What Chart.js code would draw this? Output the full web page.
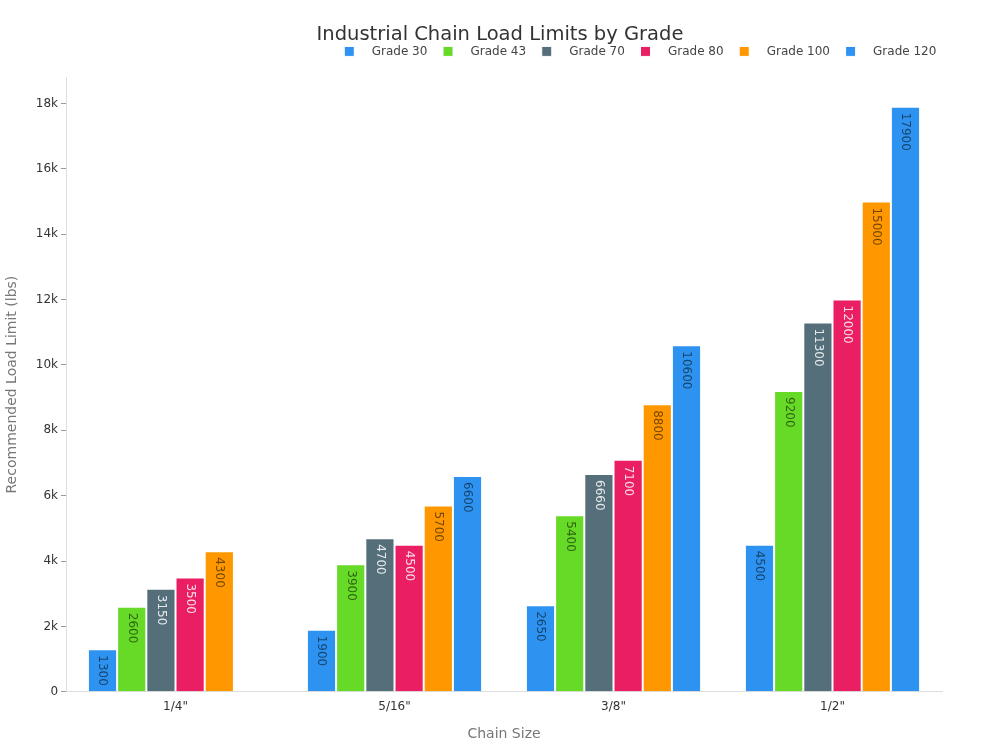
<!DOCTYPE html>
<html>
<head>
<meta charset="utf-8">
<title>Industrial Chain Load Limits by Grade</title>
<script src="https://cdn.jsdelivr.net/npm/chart.js@4.4.1/dist/chart.umd.min.js"></script>
<style>
  html, body { margin: 0; padding: 0; background: #fff; }
  #wrap { width: 1000px; height: 750px; }
</style>
</head>
<body>
<div id="wrap"><canvas id="chart"></canvas></div>
<script>
const sizes = ['1/4"', '5/16"', '3/8"', '1/2"'];
const grades = ['Grade 30', 'Grade 43', 'Grade 70', 'Grade 80', 'Grade 100', 'Grade 120'];
const grade30 = [1300, 1900, 2650, 4500];
const grade43 = [2600, 3900, 5400, 9200];
const grade70 = [3150, 4700, 6660, 11300];
const grade80 = [3500, 4500, 7100, 12000];
const grade100 = [4300, 5700, 8800, 15000];
const grade120 = [null, 6600, 10600, 17900];
const yTicks = [0, 2000, 4000, 6000, 8000, 10000, 12000, 14000, 16000, 18000];

const colors = ['#2E93F0', '#66DA26', '#546E7A', '#E91E63', '#FF9800', '#2E93F0'];
const dark = 'rgba(0,0,0,0.55)';
const light = 'rgba(255,255,255,0.85)';
const labelColors = [dark, dark, light, light, dark, dark];

const series = [grade30, grade43, grade70, grade80, grade100, grade120];

const datasets = series.map((vals, i) => ({
  label: grades[i],
  data: vals,
  backgroundColor: colors[i],
  borderColor: '#fff',
  borderWidth: 1,
  labelColor: labelColors[i],
}));

// rotated value labels inside the top of each bar
const barLabels = {
  id: 'barLabels',
  afterDatasetsDraw(chart) {
    const ctx = chart.ctx;
    chart.data.datasets.forEach((ds, i) => {
      const meta = chart.getDatasetMeta(i);
      meta.data.forEach((bar, j) => {
        const v = ds.data[j];
        if (v === null || v === undefined) return;
        ctx.save();
        ctx.translate(bar.x, bar.y + 6);
        ctx.rotate(Math.PI / 2);
        ctx.font = '12px "DejaVu Sans"';
        ctx.fillStyle = ds.labelColor;
        ctx.textAlign = 'left';
        ctx.textBaseline = 'middle';
        ctx.fillText(String(v), 0, 0);
        ctx.restore();
      });
    });
  }
};

// a bit more room under the legend, and title/legend shifted to page centre
const headerTweak = {
  id: 'headerTweak',
  beforeLayout(chart) {
    const lg = chart.legend;
    if (lg && !lg._patched) {
      const fit = lg.fit.bind(lg);
      lg.fit = function () { fit(); this.height += 10; };
      lg._patched = true;
    }
  },
  afterLayout(chart) {
    const lg = chart.legend;
    const tb = chart.titleBlock;
    if (lg) { lg.left += 10; lg.right += 10; }
    if (tb) { tb.left += 28; tb.right += 28; }
  }
};

new Chart(document.getElementById('chart'), {
  type: 'bar',
  data: { labels: sizes, datasets: datasets },
  plugins: [barLabels, headerTweak],
  options: {
    responsive: true,
    maintainAspectRatio: false,
    animation: false,
    layout: { padding: { left: 2, right: 58, top: 8, bottom: 3 } },
    datasets: { bar: { categoryPercentage: 0.8, barPercentage: 1.0 } },
    plugins: {
      title: {
        display: true,
        text: 'Industrial Chain Load Limits by Grade',
        color: '#333',
        font: { family: 'DejaVu Sans', size: 19.5, weight: 'normal' },
        padding: { top: 15, bottom: -9 },
      },
      legend: {
        align: 'end',
        labels: {
          boxWidth: 10,
          boxHeight: 10,
          padding: 8,
          color: '#444',
          font: { family: 'DejaVu Sans', size: 12 },
          generateLabels(chart) {
            // extra spaces widen the gap around each entry
            return Chart.defaults.plugins.legend.labels.generateLabels(chart).map(l => {
              l.text = '   ' + l.text + '  ';
              return l;
            });
          },
        },
      },
      tooltip: { enabled: false },
    },
    scales: {
      x: {
        grid: { display: false, tickLength: 5 },
        border: { color: '#ddd' },
        ticks: { color: '#333', font: { family: 'DejaVu Sans', size: 12 } },
        title: {
          display: true,
          text: 'Chain Size',
          color: '#777',
          font: { family: 'DejaVu Sans', size: 14 },
          padding: { top: 9, bottom: 4 },
        },
      },
      y: {
        min: 0,
        max: 18795,
        afterBuildTicks(scale) {
          scale.ticks = yTicks.map(v => ({ value: v }));
        },
        grid: { display: true, drawOnChartArea: false, tickLength: 5, color: '#999' },
        border: { color: '#ddd' },
        ticks: {
          autoSkip: false,
          color: '#333',
          font: { family: 'DejaVu Sans', size: 12 },
          callback: v => (v === 0 ? '0' : (v / 1000) + 'k'),
        },
        title: {
          display: true,
          text: 'Recommended Load Limit (lbs)',
          color: '#777',
          font: { family: 'DejaVu Sans', size: 14 },
          padding: { top: 2, bottom: 12 },
        },
      },
    },
  },
});
</script>
</body>
</html>
